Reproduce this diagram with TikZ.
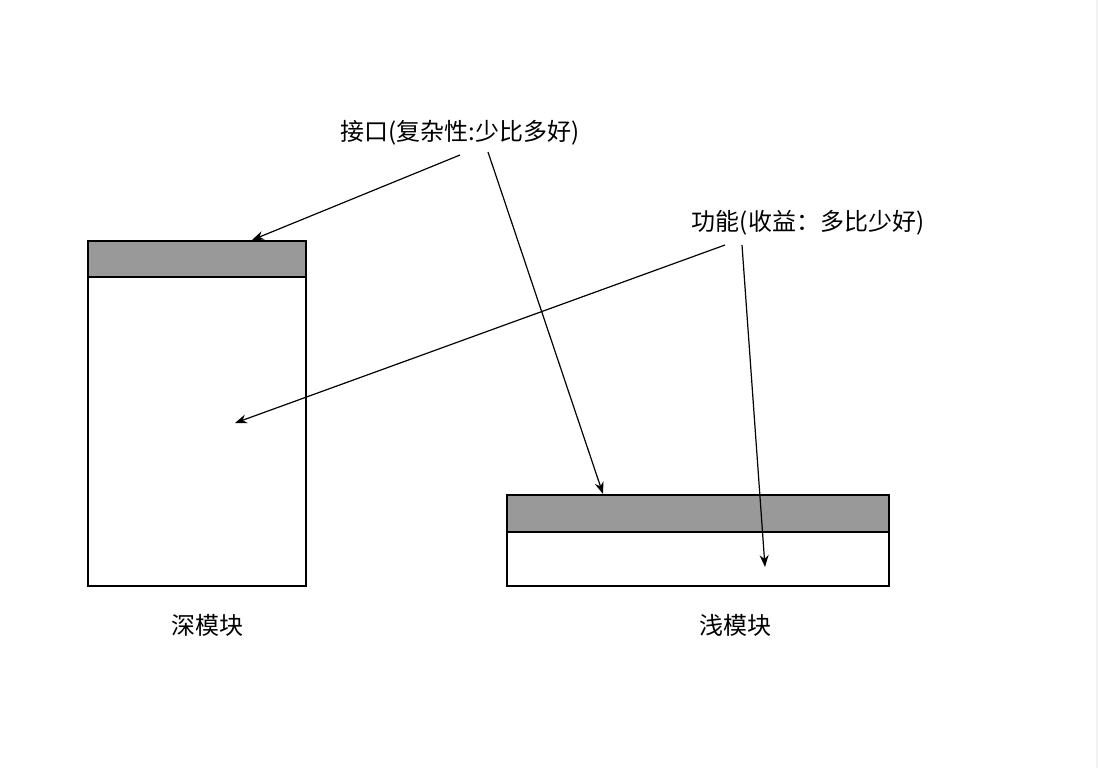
\documentclass[tikz,border=0pt]{standalone}
\usepackage{fontspec}
\setmainfont{Noto Sans CJK SC}
\usetikzlibrary{arrows.meta}
\begin{document}
\begin{tikzpicture}[x=1pt,y=-1pt,
  lbl/.style={font=\fontsize{24}{28}\selectfont, inner sep=0pt},
  arr/.style={-{Stealth[length=12pt,width=9pt]}, line width=1.2pt},
  box/.style={draw, line width=1.2pt}]
\useasboundingbox (0,0) rectangle (1098,768);
\fill[gray!10] (1096,0) rectangle (1098,768);
% left deep module
\draw[box, fill=white] (88,241) rectangle (306,586);
\draw[box, fill={rgb,255:red,153;green,153;blue,153}] (88,241) rectangle (306,277);
% right shallow module
\draw[box, fill=white] (507,495) rectangle (889,586);
\draw[box, fill={rgb,255:red,153;green,153;blue,153}] (507,495) rectangle (889,532);
\node[lbl] (iface) at (460,133) {接口(复杂性:少比多好)};
\node[lbl] (func) at (808,223) {功能(收益：多比少好)};
\node[lbl] (deep) at (207,625) {深模块};
\node[lbl] (shallow) at (735,625) {浅模块};
\coordinate (a1) at (252,240);
\coordinate (a2) at (603,494);
\coordinate (a3) at (235,423);
\coordinate (a4) at (765,567);
\draw[arr] (460,155) -- (a1);
\draw[arr] (488,152) -- (a2);
\draw[arr] (725,245) -- (a3);
\draw[arr] (742,245) -- (a4);
\end{tikzpicture}
\end{document}
